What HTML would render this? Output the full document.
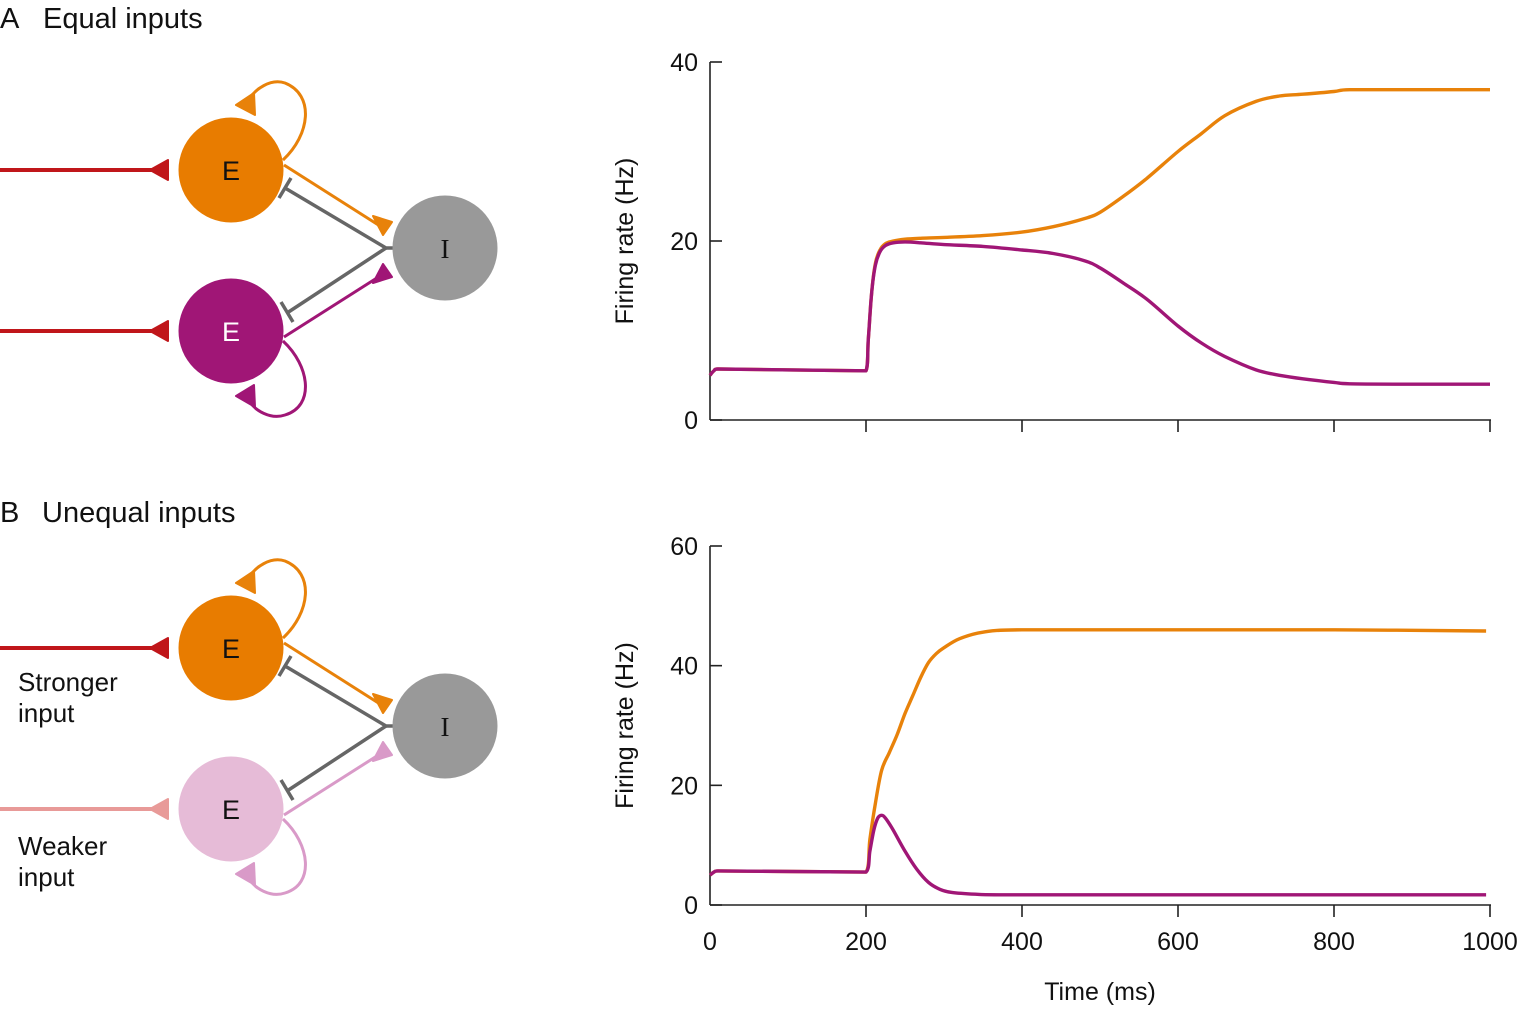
<!DOCTYPE html>
<html><head><meta charset="utf-8"><style>
body{margin:0;background:#fff;}
svg{display:block;font-family:"Liberation Sans",sans-serif;}
</style></head><body>
<svg id="fig" width="1523" height="1009" viewBox="0 0 1523 1009">
<text x="0" y="28" font-size="29" fill="#111">A</text>
<text x="43" y="28" font-size="29" fill="#111">Equal inputs</text>
<text x="0" y="522" font-size="29" fill="#111">B</text>
<text x="42" y="522" font-size="29" fill="#111">Unequal inputs</text>
<g id="diagA"></g>
<g id="diagB"></g>
<text x="18" y="691" font-size="26" fill="#111">Stronger</text>
<text x="18" y="722" font-size="26" fill="#111">input</text>
<text x="18" y="855" font-size="26" fill="#111">Weaker</text>
<text x="18" y="886" font-size="26" fill="#111">input</text>
<g id="chartA"></g>
<g id="chartB"></g>
<text x="1100" y="1000" font-size="25" fill="#111" text-anchor="middle">Time (ms)</text>
</svg>
<script>
const timesA = [0,5,10,200,203,207,212,218,225,235,250,270,300,350,400,440,480,500,530,560,600,630,660,700,730,760,800,820,900,1000];
const orangeA = [5,5.5,5.7,5.5,9,14,17.5,19,19.7,20,20.2,20.3,20.4,20.6,21,21.6,22.5,23.2,25,27,30,32,34,35.6,36.2,36.4,36.7,36.9,36.9,36.9];
const purpleA = [5,5.5,5.7,5.5,9,14,17.3,18.8,19.5,19.8,19.9,19.8,19.6,19.4,19,18.6,17.8,17,15.3,13.5,10.5,8.6,7.1,5.6,5,4.6,4.2,4.05,4,4];
const timesB = [0,5,10,200,205,212,220,230,240,250,260,270,280,290,300,320,350,400,600,800,995];
const orangeB = [5,5.5,5.7,5.5,11,17,22.5,25.5,28.5,32,35,38,40.5,42,43,44.5,45.6,46,46,46,45.8];
const timesB2 = [0,5,10,200,205,210,215,220,225,235,250,265,280,295,310,340,370,600,995];
const purpleB = [5,5.5,5.7,5.5,9,12.5,14.5,15,14.5,12.5,9,6,3.8,2.6,2.1,1.8,1.7,1.7,1.7];
const xTicks = [0,200,400,600,800,1000];
const yTicksA = [0,20,40];
const yTicksB = [0,20,40,60];

const NS="http://www.w3.org/2000/svg";
function mk(parent,tag,attrs){const e=document.createElementNS(NS,tag);for(const k in attrs)e.setAttribute(k,attrs[k]);parent.appendChild(e);return e;}
const xS=t=>710+t*0.78;
const clamp=(v,a,b)=>Math.max(Math.min(a,b),Math.min(Math.max(a,b),v));
function smooth(pts){
  let d='M'+pts[0][0].toFixed(1)+','+pts[0][1].toFixed(1);
  for(let i=0;i<pts.length-1;i++){
    const p0=pts[i-1]||pts[i],p1=pts[i],p2=pts[i+1],p3=pts[i+2]||p2;
    const c1=[clamp(p1[0]+(p2[0]-p0[0])/6,p1[0],p2[0]),clamp(p1[1]+(p2[1]-p0[1])/6,p1[1],p2[1])];
    const c2=[clamp(p2[0]-(p3[0]-p1[0])/6,p1[0],p2[0]),clamp(p2[1]-(p3[1]-p1[1])/6,p1[1],p2[1])];
    d+=` C${c1[0].toFixed(1)},${c1[1].toFixed(1)} ${c2[0].toFixed(1)},${c2[1].toFixed(1)} ${p2[0].toFixed(1)},${p2[1].toFixed(1)}`;
  }
  return d;
}

function chart(gid,y0,pxPerHz,ymax,yTicks,series,showXLabels){
  const g=document.getElementById(gid);
  const yS=v=>y0-v*pxPerHz;
  let a=mk(g,'line',{x1:710,y1:yS(ymax),x2:710,y2:y0,stroke:'#222','stroke-width':1.6});
  
  
  a=mk(g,'line',{x1:710,y1:y0,x2:1491,y2:y0,stroke:'#222','stroke-width':1.6});
  
  
  yTicks.forEach(v=>{
    const t=mk(g,'line',{x1:710,y1:yS(v),x2:722,y2:yS(v),stroke:'#222','stroke-width':1.6});
    
    
    const l=mk(g,'text',{x:698,y:yS(v)+9,'font-size':25,'text-anchor':'end',fill:'#111'});l.textContent=v;
    
    
  });
  xTicks.forEach(v=>{
    if(v>0){const t=mk(g,'line',{x1:xS(v),y1:y0,x2:xS(v),y2:y0+12,stroke:'#222','stroke-width':1.6});
    
    }
    if(showXLabels){const l=mk(g,'text',{x:xS(v),y:y0+45,'font-size':25,'text-anchor':'middle',fill:'#111'});l.textContent=v;
    
    }
  });
  const yc=(yS(0)+yS(ymax))/2;
  const tl=mk(g,'text',{x:0,y:0,'font-size':25,'text-anchor':'middle',fill:'#111',transform:`translate(633,${yc}) rotate(-90)`});
  tl.textContent='Firing rate (Hz)';
  
  
  series.forEach(s=>{
    const pts=s.t.map((t,i)=>[xS(t),yS(s.v[i])]);
    const p=mk(g,'path',{d:smooth(pts),fill:'none',stroke:s.c,'stroke-width':3.4,'stroke-linejoin':'round'});
    
    
  });
}
chart('chartA',420,358/40,40,yTicksA,[{t:timesA,v:orangeA,c:'#e8820a',n:'orange-line-a'},{t:timesA,v:purpleA,c:'#a01676',n:'purple-line-a'}],false);
chart('chartB',905,359/60,60,yTicksB,[{t:timesB,v:orangeB,c:'#e8820a',n:'orange-line-b'},{t:timesB2,v:purpleB,c:'#a01676',n:'purple-line-b'}],true);

function diagram(gid,dy,inTop,inBot,eTop,eBot,cTop,cBot,txtBot){
  const g=document.getElementById(gid);
  const Y=v=>v+dy;
  mk(g,'line',{x1:0,y1:Y(170),x2:160,y2:Y(170),stroke:inTop,'stroke-width':4});
  mk(g,'path',{d:`M150,${Y(170)} L168,${Y(160)} L168,${Y(180)} Z`,fill:inTop,'stroke':inTop,'stroke-linejoin':'round','stroke-width':2});
  mk(g,'line',{x1:0,y1:Y(331),x2:160,y2:Y(331),stroke:inBot,'stroke-width':4});
  mk(g,'path',{d:`M150,${Y(331)} L168,${Y(321)} L168,${Y(341)} Z`,fill:inBot,'stroke':inBot,'stroke-linejoin':'round','stroke-width':2});
  mk(g,'path',{d:`M283,${Y(160)} C310,${Y(135)} 315,${Y(95)} 285,${Y(83)} C270,${Y(78)} 255,${Y(90)} 250,${Y(98)}`,fill:'none',stroke:cTop,'stroke-width':3});
  mk(g,'path',{d:`M236,${Y(105)} L254,${Y(93)} L255,${Y(115)} Z`,fill:cTop,stroke:cTop,'stroke-width':2,'stroke-linejoin':'round'});
  mk(g,'path',{d:`M283,${Y(341)} C310,${Y(366)} 315,${Y(406)} 285,${Y(415)} C270,${Y(420)} 255,${Y(410)} 250,${Y(402)}`,fill:'none',stroke:cBot,'stroke-width':3});
  mk(g,'path',{d:`M236,${Y(396)} L254,${Y(385)} L255,${Y(407)} Z`,fill:cBot,stroke:cBot,'stroke-width':2,'stroke-linejoin':'round'});
  mk(g,'line',{x1:284,y1:Y(165),x2:380,y2:Y(226),stroke:cTop,'stroke-width':3});
  mk(g,'path',{d:`M383,${Y(235)} L373,${Y(216)} L392,${Y(222)} Z`,fill:cTop,stroke:cTop,'stroke-width':2,'stroke-linejoin':'round'});
  mk(g,'line',{x1:284,y1:Y(337),x2:380,y2:Y(276),stroke:cBot,'stroke-width':3});
  mk(g,'path',{d:`M383,${Y(264)} L373,${Y(283)} L392,${Y(277)} Z`,fill:cBot,stroke:cBot,'stroke-width':2,'stroke-linejoin':'round'});
  mk(g,'path',{d:`M395,${Y(248)} L386,${Y(248)} L285,${Y(188)} M279,${Y(198)} L291,${Y(178)}`,fill:'none',stroke:'#666','stroke-width':3.5});
  mk(g,'path',{d:`M386,${Y(248)} L287,${Y(313)} M281,${Y(302)} L293,${Y(322)}`,fill:'none',stroke:'#666','stroke-width':3.5});
  mk(g,'circle',{cx:231,cy:Y(170),r:52.5,fill:eTop});
  mk(g,'circle',{cx:231,cy:Y(331),r:52.5,fill:eBot});
  mk(g,'circle',{cx:445,cy:Y(248),r:52.5,fill:'#999'});
  let t=mk(g,'text',{x:231,y:Y(180),'font-size':27,'text-anchor':'middle',fill:'#111'});t.textContent='E';
  t=mk(g,'text',{x:231,y:Y(341),'font-size':27,'text-anchor':'middle',fill:txtBot});t.textContent='E';
  t=mk(g,'text',{x:445,y:Y(258),'font-size':27,'text-anchor':'middle',fill:'#111','font-family':'Liberation Serif, serif'});t.textContent='I';
}
diagram('diagA',0,'#c0161a','#c0161a','#e87c00','#a01676','#e8820a','#a01676','#fff');
diagram('diagB',478,'#c0161a','#e89a98','#e87c00','#e6bbd7','#e8820a','#d99ac8','#111');
</script>
</body></html>
